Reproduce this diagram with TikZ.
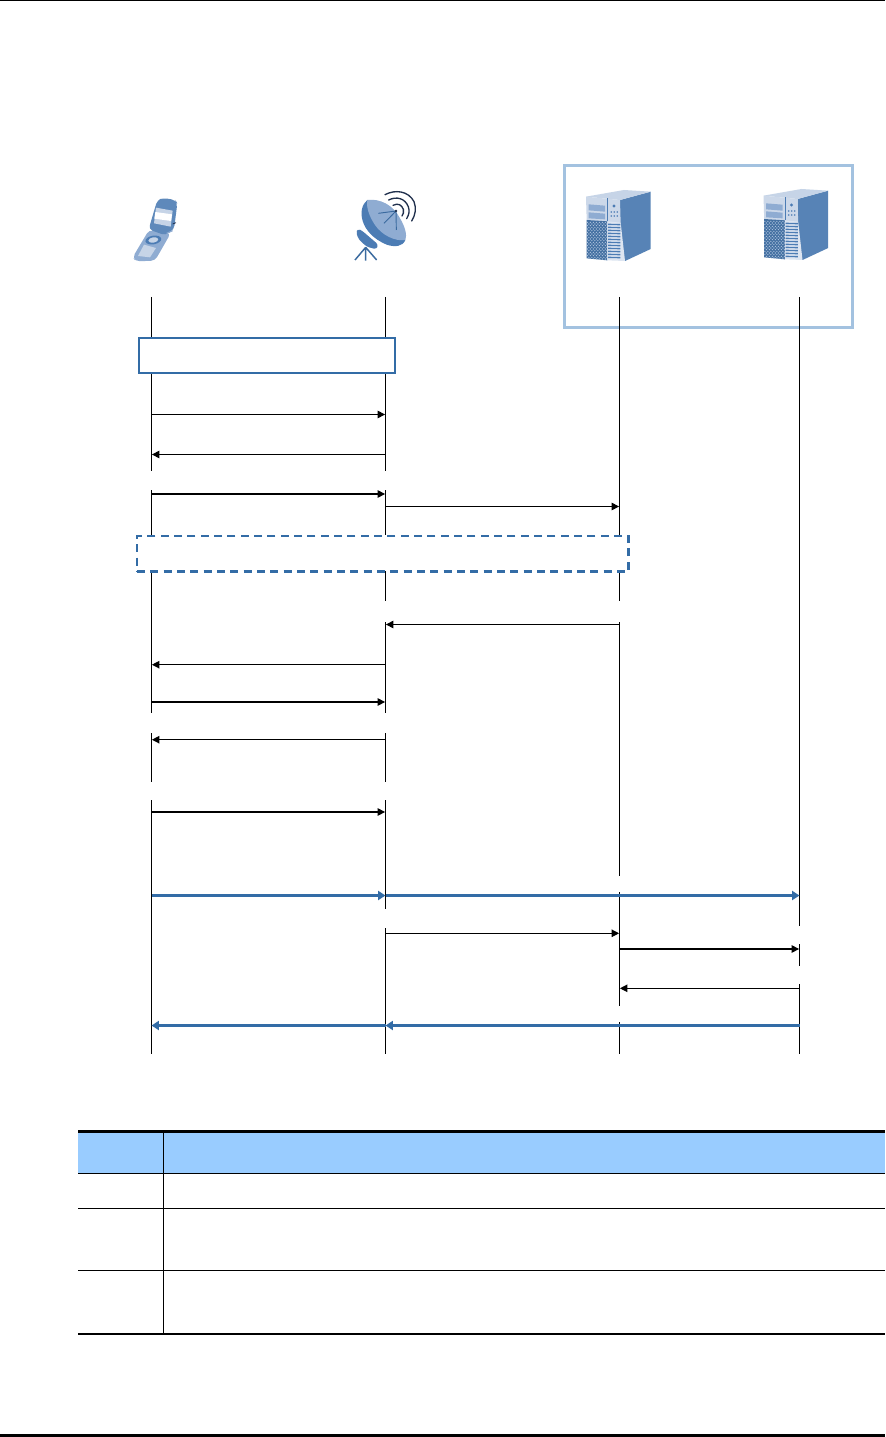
\documentclass[tikz,border=0pt]{standalone}
\usetikzlibrary{arrows.meta}
\definecolor{bluemain}{HTML}{336CA6}
\definecolor{framecol}{HTML}{A3C2E0}
\definecolor{headfill}{HTML}{99CCFF}
\definecolor{icondark}{HTML}{4C7CB4}
\definecolor{iconmid}{HTML}{8FACD2}
\definecolor{iconlight}{HTML}{C6D4E7}
\definecolor{iconside}{HTML}{5783B6}
\definecolor{navy}{HTML}{1F2F4C}
\definecolor{mast}{HTML}{3A6A9F}
\tikzset{
  life/.style={black,line width=0.8pt},
  msg/.style={black,line width=0.85pt,-{Triangle[length=5.6pt,width=5.6pt]},shorten >=0.3pt},
  bluemsg/.style={bluemain,line width=2.1pt,-{Triangle[length=5.6pt,width=6.8pt]}},
  solidbox/.style={draw=bluemain,line width=1.6pt,fill=white,inner sep=0pt,rectangle},
  dashbox/.style={draw=bluemain,line width=1.6pt,fill=white,inner sep=0pt,rectangle,dash pattern=on 6pt off 4pt},
  rule/.style={black,line width=0.9pt},
  zm/.style={x=0.25pt,y=-0.25pt},
  serverpic/.pic={
    \begin{scope}[zm]
      \fill[iconside] (210,135) -- (302,110) -- (302,282) -- (225,318) -- (210,318) -- cycle;
      \fill[iconlight] (108,125) -- (222,105) -- (302,110) -- (210,135) -- cycle;
      \fill[iconlight!90!white] (108,125) -- (210,135) -- (212,205) -- (110,195) -- cycle;
      \fill[iconmid] (116,148) -- (165,152) -- (165,170) -- (116,166) -- cycle;
      \fill[iconmid] (116,172) -- (165,176) -- (165,193) -- (116,190) -- cycle;
      \draw[icondark,line width=0.3pt] (172,130) -- (172,198);
      \fill[icondark] (192,153) circle (5);
      \foreach \bx in {184,193,202}{
        \fill[icondark] (\bx,171) circle (2.6);
        \fill[icondark] (\bx,183) circle (2.6);
      }
      \fill[icondark!90!black] (110,195) -- (172,199) -- (172,316) -- (110,310) -- cycle;
      \fill[iconlight!60!white] (172,199) -- (212,203) -- (225,318) -- (172,316) -- cycle;
      \foreach \vy in {208,217,...,307}{
        \draw[icondark,line width=1pt] (174,\vy) -- (211,\vy+1);
      }
      \begin{scope}
        \clip (110,195) -- (172,199) -- (172,316) -- (110,310) -- cycle;
        \foreach \mi in {0,...,6}{
          \foreach \mj in {0,...,11}{
            \fill[iconmid!70!white] (112+\mi*9,202+\mj*10) circle (2);
            \fill[iconmid!70!white] (116.5+\mi*9,207+\mj*10) circle (2);
          }
        }
      \end{scope}
    \end{scope}
  }
}
\begin{document}
\begin{tikzpicture}[x=0.75pt,y=-0.75pt]
\useasboundingbox (0,0) rectangle (885,1437);
\fill[white] (0,0) rectangle (885,1437);
% page rules
\fill[black] (0,0) rectangle (885,1.2);
\fill[black] (0,1433.8) rectangle (885,1437);

% gateway frame
\draw[framecol,line width=2.6pt] (564.6,165.7) rectangle (852.4,327.3);

% phone icon
\begin{scope}[shift={(100,170)},zm]
  \fill[iconmid,rounded corners=3pt] (147,180) -- (212,190) -- (165,272) -- (108,274) -- (98,262) -- cycle;
  \fill[iconlight] (132,224) -- (168,234) -- (150,262) -- (114,258) -- cycle;
  \fill[icondark!90!white,rounded corners=3pt] (172,90) -- (190,84) -- (226,90) -- (232,100) -- (222,178) -- (196,196) -- (146,178) -- (160,130) -- cycle;
  \fill[iconlight] (168,113) -- (218,122) -- (212,170) -- (162,160) -- cycle;
  \fill[white] (166,126) -- (216,133) -- (213,153) -- (163,146) -- cycle;
  \draw[navy,line width=0.6pt] (218,162) -- (228,158);
  \draw[iconmid,line width=0.8pt] (200,190) -- (218,182);
  \fill[icondark,rotate around={10:(160,210)}] (160,210) ellipse (24 and 13);
  \fill[iconlight,rotate around={10:(160,210)}] (160,210) ellipse (15 and 8);
\end{scope}

% dish icon
\begin{scope}[shift={(100,170)},zm]
  \draw[mast,line width=1.1pt] (797,232) -- (765,270) (797,232) -- (797,272) (797,232) -- (830,270);
  \fill[icondark,rounded corners=2pt] (768,186) -- (775,177) -- (786,182) -- (835,224) -- (829,238) -- (800,230) -- (776,208) -- cycle;
  \fill[icondark] (802,90) .. controls (770,115) and (778,190) .. (860,224) .. controls (885,232) and (908,230) .. (916,210) -- cycle;
  \fill[iconmid] (802,90) .. controls (840,85) and (880,105) .. (900,145) .. controls (915,170) and (922,195) .. (916,210) .. controls (885,215) and (845,195) .. (825,165) .. controls (808,140) and (798,112) .. (802,90) -- cycle;
  \draw[mast,line width=0.7pt] (888,123) -- (835,130) (888,123) -- (852,160) (888,123) -- (889,180);
  \fill[navy] (888,123) circle (4);
  \draw[navy,line width=1pt,line cap=round] (855,74) .. controls (885,58) and (925,62) .. (942,95) .. controls (950,115) and (946,135) .. (935,153);
  \draw[navy,line width=1pt,line cap=round] (866,90) .. controls (890,78) and (915,85) .. (925,110) .. controls (930,125) and (926,135) .. (920,146);
  \draw[navy,line width=1pt,line cap=round] (879,106) .. controls (895,98) and (905,105) .. (910,118) .. controls (912,126) and (910,132) .. (906,138);
\end{scope}

% server icons
\pic at (550,155) {serverpic};
\pic at (727.5,154) {serverpic};

% lifelines
\foreach \n/\x/\a/\b in {
  a/151.5/297/338, b/151.5/374/471, c/151.5/490/535, d/151.5/571/713, e/151.5/733/782, f/151.5/800/1054,
  g/385.5/297/338, h/385.5/374/471, i/385.5/490/535, j/385.5/571/601, k/385.5/622/713, l/385.5/733/782, m/385.5/800/909, n/385.5/928/1054,
  o/619.5/297/535, p/619.5/571/601, q/619.5/622/876, r/619.5/892/1005.5, s/619.5/1022/1054,
  t/799.5/297/925.5, u/799.5/944/966, v/799.5/984/1054}{
  \coordinate (top\n) at (\x,\a);
  \coordinate (bot\n) at (\x,\b);
  \draw[life] (top\n) -- (bot\n);
}

% boxes
\node[solidbox,minimum width=192.4pt,minimum height=26.3pt] (accessbox) at (267,355.7) {};
\node[dashbox,minimum width=368.6pt,minimum height=26.6pt] (authbox) at (382.8,553.7) {};

% black messages
\foreach \n/\xa/\xb/\y in {
  1/151.5/385.5/414.5, 2/385.5/151.5/454.5, 3/151.5/385.5/494, 4/385.5/619.5/506.5,
  5/619.5/385.5/624.5, 6/385.5/151.5/664.7, 7/151.5/385.5/702, 8/385.5/151.5/739.7, 9/151.5/385.5/812,
  10/385.5/619.5/933.3, 11/619.5/799.5/949, 12/799.5/619.5/988.3}{
  \coordinate (msg\n s) at (\xa,\y);
  \coordinate (msg\n e) at (\xb,\y);
  \draw[msg] (msg\n s) -- (msg\n e);
}

% blue messages
\coordinate (upa) at (151.5,895.5);
\coordinate (upb) at (385.5,895.5);
\coordinate (upc) at (799.5,895.5);
\coordinate (dna) at (799.5,1025.5);
\coordinate (dnb) at (385.5,1025.5);
\coordinate (dnc) at (151.5,1025.5);
\draw[bluemsg] (upa) -- (upb);
\draw[bluemsg] (upb) -- (upc);
\draw[bluemsg] (dna) -- (dnb);
\draw[bluemsg] (dnb) -- (dnc);

% table
\fill[headfill] (78,1133) rectangle (885,1173);
\fill[black] (78,1130) rectangle (885,1133);
\draw[rule] (78,1173.3) -- (885,1173.3);
\draw[rule] (78,1208.3) -- (885,1208.3);
\draw[rule] (78,1270.3) -- (885,1270.3);
\fill[black] (77.5,1332.5) rectangle (885,1334.7);
\draw[rule] (163.5,1133) -- (163.5,1333);
\end{tikzpicture}
\end{document}
